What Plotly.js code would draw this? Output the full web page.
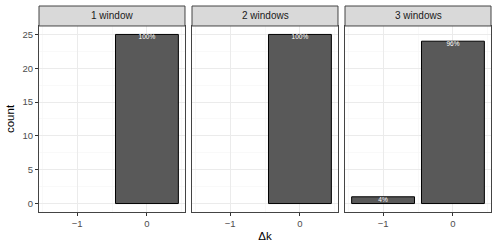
<!DOCTYPE html>
<html><head><meta charset="utf-8">
<script src="https://cdn.plot.ly/plotly-3.0.1.min.js"></script>
<style>body{margin:0;padding:0;background:#fff}#c{width:498px;height:249px}</style>
</head><body><div id="c"></div>
<script>
const panels = ["1 window", "2 windows", "3 windows"];
const deltaK = [[0], [0], [-1, 0]];
const counts = [[25], [25], [1, 24]];
const labels = [["100%"], ["100%"], ["4%", "96%"]];
const xTicks = [-1, 0];

const font = "Liberation Sans, Arial, sans-serif";
const domains = [[0, 0.323], [0.3385, 0.6615], [0.677, 1]];
const yTop = 0.903;
const traces = [];
const layout = {
  width: 498, height: 249,
  margin: {l: 39, r: 7, t: 6, b: 37},
  paper_bgcolor: "#fff", plot_bgcolor: "#fff",
  showlegend: false, bargap: 0.1,
  font: {family: font},
  shapes: [], annotations: []
};
panels.forEach((p, i) => {
  const s = i === 0 ? "" : String(i + 1);
  traces.push({
    type: "bar", x: deltaK[i], y: counts[i], width: 0.9,
    xaxis: "x" + s, yaxis: "y" + s,
    marker: {color: "#595959", line: {color: "#000", width: 1}},
    hoverinfo: "skip"
  });
  traces.push({
    type: "scatter", mode: "text", x: deltaK[i], y: counts[i], text: labels[i],
    textposition: "bottom center", xaxis: "x" + s, yaxis: "y" + s,
    textfont: {color: "#fff", size: 6.5, family: font}, hoverinfo: "skip", cliponaxis: false
  });
  layout["xaxis" + s] = {
    domain: domains[i], anchor: "y" + s, range: [-1.545, 0.545],
    tickvals: xTicks, ticktext: xTicks.map(v => v < 0 ? "\u2212" + Math.abs(v) : String(v)),
    ticks: "outside", ticklen: 3, tickcolor: "#333", tickwidth: 1,
    tickfont: {size: 9.5, color: "#4d4d4d", family: font},
    showgrid: true, gridcolor: "#ebebeb", gridwidth: 1,
    minor: {tickvals: [-1.5, -0.5, 0.5], showgrid: true, gridcolor: "#f5f5f5", gridwidth: 0.6, ticklen: 0},
    zeroline: false, showline: true, mirror: true, linecolor: "#444", linewidth: 1,
    fixedrange: true
  };
  layout["yaxis" + s] = {
    domain: [0, yTop], anchor: "x" + s, range: [-1.25, 26.25],
    tickvals: [0, 5, 10, 15, 20, 25], showticklabels: i === 0,
    ticks: i === 0 ? "outside" : "", ticklen: 3, tickcolor: "#333", tickwidth: 1,
    tickfont: {size: 9.5, color: "#4d4d4d", family: font},
    showgrid: true, gridcolor: "#ebebeb", gridwidth: 1,
    minor: {tickvals: [2.5, 7.5, 12.5, 17.5, 22.5], showgrid: true, gridcolor: "#f5f5f5", gridwidth: 0.6, ticklen: 0},
    zeroline: false, showline: true, mirror: true, linecolor: "#444", linewidth: 1,
    fixedrange: true
  };
  layout.shapes.push({
    type: "rect", xref: "paper", yref: "paper",
    x0: domains[i][0], x1: domains[i][1], y0: yTop, y1: 1,
    fillcolor: "#d9d9d9", line: {color: "#444", width: 1}, layer: "above"
  });
  layout.annotations.push({
    xref: "paper", yref: "paper", x: (domains[i][0] + domains[i][1]) / 2,
    y: (yTop + 1) / 2, text: p, showarrow: false,
    xanchor: "center", yanchor: "middle",
    font: {size: 10, color: "#1a1a1a", family: font}
  });
});
layout.xaxis2.title = {text: "\u0394k", font: {size: 11.5, color: "#000", family: font}, standoff: 3};
layout.yaxis.title = {text: "count", font: {size: 11.5, color: "#000", family: font}, standoff: 5};
Plotly.newPlot("c", traces, layout, {displayModeBar: false, staticPlot: true});
</script>
</body></html>
